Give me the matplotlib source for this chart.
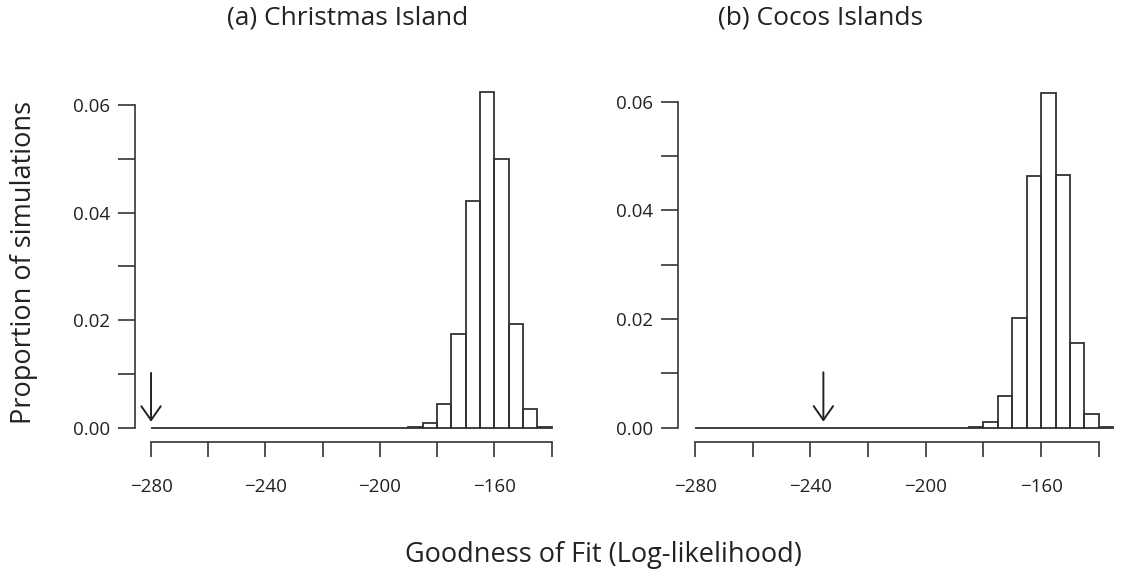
import numpy as np
import matplotlib
matplotlib.use("Agg")
import matplotlib.pyplot as plt

plt.rcParams['font.family'] = ['Open Sans', 'DejaVu Sans']

# histogram breaks (width 5) and proportions of simulations per bin
breaks_a = np.arange(-280, -135, 5)          # -280 .. -140
props_a = [0.0] * 18 + [0.0001, 0.0008, 0.0044, 0.0174, 0.0421,
                        0.0624, 0.0500, 0.0193, 0.0034, 0.0002]
breaks_b = np.arange(-280, -130, 5)          # -280 .. -135
props_b = [0.0] * 19 + [0.0001, 0.0011, 0.0058, 0.0201, 0.0463,
                        0.0617, 0.0465, 0.0155, 0.0025, 0.0002]

# observed log-likelihoods (arrows)
obs_a = -280.0
obs_b = -235.5

titles = ["(a) Christmas Island", "(b) Cocos Islands"]
xticks = np.arange(-280, -139, 20)
yticks = np.arange(0, 0.061, 0.01)

ink = '#222222'
fig = plt.figure(figsize=(11.27, 5.77), dpi=100)

panels = [
    dict(pos=[0.1198, 0.2345, 0.3815, 0.613], xlim=(-285.6, -135.3), ylim=(-0.0026, 0.0632),
         breaks=breaks_a, props=props_a, obs=obs_a),
    dict(pos=[0.6019, 0.2345, 0.3875, 0.613], xlim=(-285.8, -134.35), ylim=(-0.00258, 0.06253),
         breaks=breaks_b, props=props_b, obs=obs_b),
]

for i, p in enumerate(panels):
    ax = fig.add_axes(p['pos'])
    ax.bar(p['breaks'][:-1] if len(p['breaks']) > len(p['props']) else p['breaks'],
           p['props'], width=5, align='edge', fill=False, edgecolor='#333333', linewidth=1.3)
    ax.set_xlim(*p['xlim'])
    ax.set_ylim(*p['ylim'])

    ax.spines['top'].set_visible(False)
    ax.spines['right'].set_visible(False)
    ax.spines['left'].set_bounds(0, 0.06)
    ax.spines['bottom'].set_bounds(-280, -140)
    for s in ('left', 'bottom'):
        ax.spines[s].set_color('#333333')
        ax.spines[s].set_linewidth(1.2)

    ax.set_xticks(xticks)
    ax.set_xticklabels([f"\u2212{abs(v)}" if k % 2 == 0 else "" for k, v in enumerate(xticks)])
    ax.set_yticks(yticks)
    ax.set_yticklabels([f"{v:.2f}" if k % 2 == 0 else "" for k, v in enumerate(yticks)])
    ax.tick_params(axis='x', length=11, width=1.2, color='#333333', pad=15,
                   labelsize=13.5, labelcolor=ink)
    ax.tick_params(axis='y', length=12, width=1.2, color='#333333', pad=6,
                   labelsize=13.5, labelcolor=ink)

    ax.annotate('', xy=(p['obs'], 0.0011), xytext=(p['obs'], 0.0102),
                arrowprops=dict(arrowstyle='->,head_length=0.5,head_width=0.35',
                                mutation_scale=20, color='#222222', lw=1.4,
                                shrinkA=0, shrinkB=0))

fig.text(348 / 1127, 1 - 18 / 577, titles[0], ha='center', va='center', fontsize=19, color=ink)
fig.text(820 / 1127, 1 - 18 / 577, titles[1], ha='center', va='center', fontsize=19, color=ink)
fig.text(24 / 1127, 1 - 262 / 577, "Proportion of simulations", rotation=90,
         ha='center', va='center', fontsize=19.5, color=ink)
fig.text(603 / 1127, 1 - 555 / 577, "Goodness of Fit (Log-likelihood)",
         ha='center', va='center', fontsize=19.5, color=ink)

fig.savefig('out.png', dpi=100)
